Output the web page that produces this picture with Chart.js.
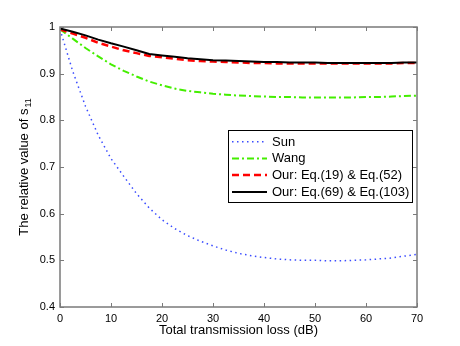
<!DOCTYPE html>
<html>
<head>
<meta charset="utf-8">
<script src="https://cdn.jsdelivr.net/npm/chart.js@4.4.1/dist/chart.umd.min.js"></script>
<style>
    html, body { margin: 0; padding: 0; background: #fff; }
    #wrap { width: 460px; height: 346px; }
</style>
</head>
<body>
<div id="wrap"><canvas id="lossChart" width="460" height="346"></canvas></div>
<script>
/**
 * ============================================================
 * DATA
 * ============================================================
 */

const lossDb = [
    0, 2.5, 5, 7.5, 10, 12.5, 15, 17.5, 20, 22.5, 25, 27.5, 30, 32.5, 35,
    37.5, 40, 42.5, 45, 47.5, 50, 52.5, 55, 57.5, 60, 62.5, 65, 67.5, 70
];

const sunValues = [
    0.995, 0.905, 0.830, 0.768, 0.718, 0.680, 0.643, 0.612, 0.587, 0.568,
    0.553, 0.541, 0.531, 0.522, 0.515, 0.510, 0.506, 0.503, 0.501, 0.500,
    0.500, 0.499, 0.499, 0.500, 0.501, 0.503, 0.505, 0.509, 0.513
];

const wangValues = [
    0.995, 0.975, 0.955, 0.937, 0.920, 0.906, 0.894, 0.883, 0.875, 0.868,
    0.863, 0.860, 0.857, 0.855, 0.853, 0.852, 0.851, 0.850, 0.850, 0.849,
    0.849, 0.849, 0.849, 0.849, 0.850, 0.850, 0.851, 0.852, 0.853
];

const eq19Values = [
    0.995, 0.986, 0.977, 0.966, 0.958, 0.950, 0.944, 0.938, 0.935, 0.932,
    0.929, 0.927, 0.926, 0.925, 0.924, 0.923, 0.923, 0.922, 0.922, 0.922,
    0.922, 0.922, 0.922, 0.922, 0.922, 0.922, 0.922, 0.923, 0.923
];

const eq69Values = [
    0.997, 0.990, 0.982, 0.973, 0.965, 0.958, 0.950, 0.942, 0.939, 0.936,
    0.933, 0.931, 0.929, 0.928, 0.927, 0.926, 0.925, 0.925, 0.924, 0.924,
    0.924, 0.923, 0.923, 0.923, 0.923, 0.923, 0.923, 0.924, 0.924
];

const seriesLabels = [
    "Sun",
    "Wang",
    "Our: Eq.(19) & Eq.(52)",
    "Our: Eq.(69) & Eq.(103)"
];

const xTitle = "Total transmission loss (dB)";
const yTitle = "The relative value of s";
const yTitleSub = "11";

const FONT = "'Liberation Sans', Arial, Helvetica, sans-serif";

const toPoints = (values) => lossDb.map((x, i) => ({ x: x, y: values[i] }));

/**
 * ============================================================
 * PLUGINS: matlab style frame, inward ticks, titles, legend
 * ============================================================
 */

const frameTicks = {
    id: "frameTicks",
    afterDatasetsDraw(chart) {
        const { ctx, chartArea: a, scales } = chart;
        ctx.save();
        ctx.strokeStyle = "#7a7a7a";
        ctx.lineWidth = 1.5;
        ctx.setLineDash([]);
        ctx.strokeRect(a.left, a.top, a.right - a.left, a.bottom - a.top);

        ctx.lineWidth = 1;
        ctx.beginPath();
        scales.x.ticks.forEach((t, i) => {
            const px = Math.round(scales.x.getPixelForTick(i)) + 0.5;
            ctx.moveTo(px, a.bottom);
            ctx.lineTo(px, a.bottom - 4);
            ctx.moveTo(px, a.top);
            ctx.lineTo(px, a.top + 4);
        });
        scales.y.ticks.forEach((t, i) => {
            const py = Math.round(scales.y.getPixelForTick(i)) + 0.5;
            ctx.moveTo(a.left, py);
            ctx.lineTo(a.left + 4, py);
            ctx.moveTo(a.right, py);
            ctx.lineTo(a.right - 4, py);
        });
        ctx.stroke();
        ctx.restore();
    }
};

const titles = {
    id: "titles",
    afterDraw(chart) {
        const { ctx, chartArea: a } = chart;
        ctx.save();
        ctx.fillStyle = "#000";

        // x title
        ctx.font = "13px " + FONT;
        ctx.textAlign = "center";
        ctx.textBaseline = "alphabetic";
        ctx.fillText(xTitle, (a.left + a.right) / 2, 334);

        // y title with subscript
        ctx.font = "13px " + FONT;
        const w1 = ctx.measureText(yTitle).width;
        ctx.font = "9px " + FONT;
        const w2 = ctx.measureText(yTitleSub).width;
        const total = w1 + w2 + 1;
        ctx.translate(28, (a.top + a.bottom) / 2);
        ctx.rotate(-Math.PI / 2);
        ctx.textAlign = "left";
        ctx.font = "13px " + FONT;
        ctx.fillText(yTitle, -total / 2, 0);
        ctx.font = "9px " + FONT;
        ctx.fillText(yTitleSub, -total / 2 + w1 + 1, 3);
        ctx.restore();
    }
};

const boxLegend = {
    id: "boxLegend",
    afterDraw(chart) {
        const { ctx } = chart;
        const box = { x: 228.5, y: 130.5, w: 184, h: 72 };
        const rows = [141.7, 158.4, 175.1, 191.9];
        ctx.save();
        ctx.fillStyle = "#fff";
        ctx.fillRect(box.x, box.y, box.w, box.h);
        ctx.strokeStyle = "#000";
        ctx.lineWidth = 1;
        ctx.setLineDash([]);
        ctx.strokeRect(box.x, box.y, box.w, box.h);

        const sets = chart.data.datasets;
        sets.forEach((ds, i) => {
            const y = rows[i];
            ctx.strokeStyle = ds.borderColor;
            ctx.lineWidth = ds.borderWidth;
            ctx.setLineDash(ds.borderDash || []);
            ctx.beginPath();
            ctx.moveTo(232, y);
            ctx.lineTo(267, y);
            ctx.stroke();

            ctx.setLineDash([]);
            ctx.fillStyle = "#000";
            ctx.font = "13px " + FONT;
            ctx.textAlign = "left";
            ctx.textBaseline = "middle";
            ctx.fillText(ds.label, 272, y + 0.5);
        });
        ctx.restore();
    }
};

/**
 * ============================================================
 * CHART
 * ============================================================
 */

const canvas = document.getElementById("lossChart");

new Chart(canvas, {
    type: "line",
    data: {
        datasets: [
            {
                label: seriesLabels[0],
                data: toPoints(sunValues),
                borderColor: "#3a4cff",
                borderWidth: 1.5,
                borderDash: [1.5, 3.5],
                order: 3
            },
            {
                label: seriesLabels[1],
                data: toPoints(wangValues),
                borderColor: "#44ee00",
                borderWidth: 2,
                borderDash: [7, 3, 2, 3],
                order: 2
            },
            {
                label: seriesLabels[2],
                data: toPoints(eq19Values),
                borderColor: "#ff0000",
                borderWidth: 2.5,
                borderDash: [7, 4],
                order: 1
            },
            {
                label: seriesLabels[3],
                data: toPoints(eq69Values),
                borderColor: "#000000",
                borderWidth: 2,
                order: 0
            }
        ]
    },
    options: {
        responsive: false,
        animation: false,
        devicePixelRatio: 1,
        parsing: true,
        elements: {
            point: { radius: 0 },
            line: { tension: 0, fill: false }
        },
        layout: {
            padding: { left: 0, right: 43, top: 27, bottom: 0 }
        },
        plugins: {
            legend: { display: false },
            tooltip: { enabled: false },
            title: { display: false }
        },
        scales: {
            x: {
                type: "linear",
                min: 0,
                max: 70,
                grid: { display: false, drawTicks: false },
                border: { display: false },
                ticks: {
                    stepSize: 10,
                    color: "#000",
                    padding: 5,
                    maxRotation: 0,
                    font: { family: FONT, size: 11 }
                },
                afterFit(scale) { scale.height = 39; }
            },
            y: {
                type: "linear",
                min: 0.4,
                max: 1,
                grid: { display: false, drawTicks: false },
                border: { display: false },
                ticks: {
                    stepSize: 0.1,
                    color: "#000",
                    padding: 5,
                    font: { family: FONT, size: 11 },
                    callback: (v) => String(Number(v.toFixed(1)))
                },
                afterFit(scale) { scale.width = 60; }
            }
        }
    },
    plugins: [frameTicks, titles, boxLegend]
});
</script>
</body>
</html>
